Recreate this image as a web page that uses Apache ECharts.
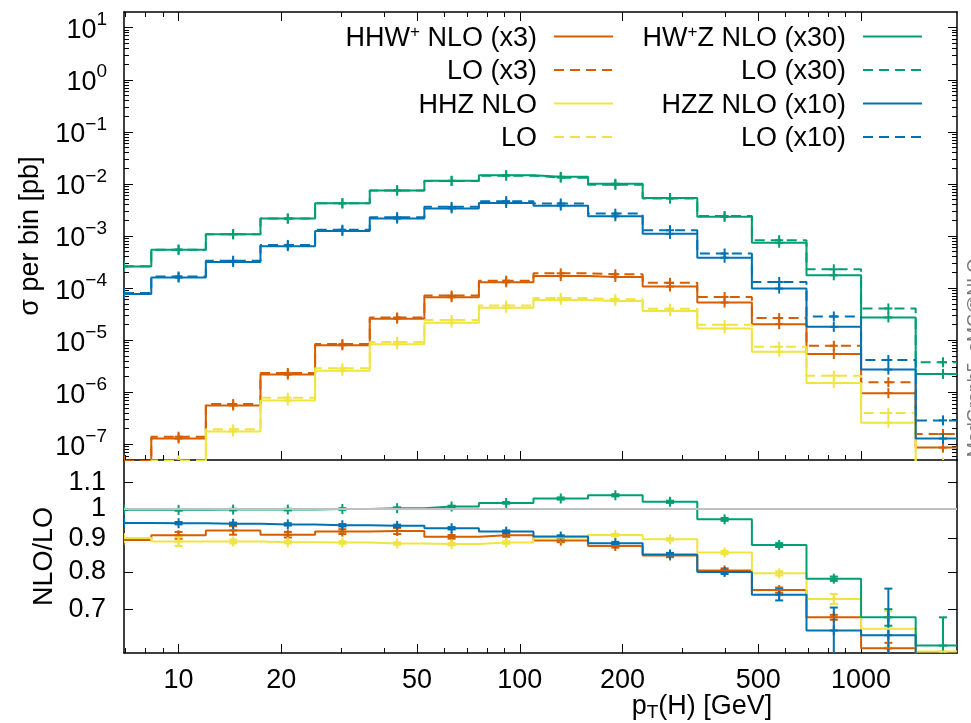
<!DOCTYPE html>
<html>
<head>
<meta charset="utf-8">
<script src="https://cdn.jsdelivr.net/npm/echarts@6/dist/echarts.min.js"></script>
<style>
  html, body { margin: 0; padding: 0; background: #fff; }
  #main { width: 971px; height: 723px; }
</style>
</head>
<body>
<div id="main"></div>
<script>
// bin centres of the pT(H) histogram [GeV]
var binCenters = [6.92, 10, 14.45, 20.9, 30.2, 43.7, 63.1, 91.2, 131.8, 190.5, 275.4, 398.1, 575.4, 831.8, 1202, 1738];

// sigma per bin [pb] (already scaled by the factor shown in the key)
var hhwNLO = [4.3e-8, 1.29e-7, 5.57e-7, 2.18e-6, 7.96e-6, 2.59e-5, 6.67e-5, 1.29e-4, 1.70e-4, 1.63e-4, 1.07e-4, 5.28e-5, 2.03e-5, 5.42e-6, 9.61e-7, 8.65e-8];
var hhwLO  = [4.8e-8, 1.40e-7, 5.92e-7, 2.35e-6, 8.41e-6, 2.73e-5, 7.19e-5, 1.39e-4, 1.92e-4, 1.84e-4, 1.26e-4, 6.76e-5, 2.65e-5, 7.82e-6, 1.56e-6, 1.58e-7];
var hhzNLO = [1.5e-8, 4.4e-8, 1.77e-7, 6.94e-7, 2.60e-6, 8.32e-6, 2.17e-5, 4.17e-5, 5.92e-5, 5.66e-5, 3.65e-5, 1.68e-5, 6.00e-6, 1.51e-6, 2.60e-7, 3.0e-8];
var hhzLO  = [1.7e-8, 4.9e-8, 1.94e-7, 7.88e-7, 2.89e-6, 9.27e-6, 2.44e-5, 4.63e-5, 6.47e-5, 6.11e-5, 4.02e-5, 1.97e-5, 7.48e-6, 2.08e-6, 3.98e-7, 4.5e-8];
var hwzNLO = [2.61e-4, 5.45e-4, 1.08e-3, 2.16e-3, 4.24e-3, 7.51e-3, 1.15e-2, 1.47e-2, 1.37e-2, 1.01e-2, 5.37e-3, 2.33e-3, 7.41e-4, 1.76e-4, 2.73e-5, 2.25e-6];
var hwzLO  = [2.62e-4, 5.47e-4, 1.08e-3, 2.16e-3, 4.24e-3, 7.49e-3, 1.14e-2, 1.44e-2, 1.32e-2, 9.6e-3, 5.22e-3, 2.42e-3, 8.31e-4, 2.29e-4, 4.06e-5, 3.76e-6];
var hzzNLO = [7.67e-5, 1.59e-4, 3.18e-4, 6.38e-4, 1.25e-3, 2.16e-3, 3.39e-3, 4.31e-3, 3.83e-3, 2.39e-3, 1.10e-3, 3.83e-4, 9.78e-5, 1.80e-5, 2.72e-6, 1.29e-7];
var hzzLO  = [8.06e-5, 1.67e-4, 3.35e-4, 6.74e-4, 1.32e-3, 2.30e-3, 3.63e-3, 4.67e-3, 4.22e-3, 2.69e-3, 1.29e-3, 4.62e-4, 1.31e-4, 2.85e-5, 4.17e-6, 2.88e-7];

// NLO/LO ratio and its uncertainty
var hhwRatio = [0.896, 0.911, 0.927, 0.913, 0.923, 0.925, 0.906, 0.911, 0.894, 0.877, 0.848, 0.804, 0.750, 0.681, 0.610, 0.55];
var hhzRatio = [0.902, 0.891, 0.891, 0.889, 0.888, 0.885, 0.883, 0.888, 0.904, 0.912, 0.898, 0.857, 0.796, 0.727, 0.654, 0.603];
var hwzRatio = [0.997, 0.997, 0.998, 0.998, 1.000, 1.003, 1.009, 1.022, 1.038, 1.050, 1.026, 0.964, 0.880, 0.781, 0.681, 0.616];
var hzzRatio = [0.952, 0.951, 0.949, 0.947, 0.944, 0.942, 0.934, 0.923, 0.907, 0.886, 0.851, 0.800, 0.738, 0.650, 0.639, 0.45];
var hhwErr = [0, 0.011, 0.014, 0.009, 0.008, 0.010, 0.006, 0.005, 0.005, 0.005, 0.005, 0.006, 0.007, 0.006, 0.012, 0];
var hhzErr = [0, 0.014, 0.006, 0.004, 0.004, 0.004, 0.004, 0.004, 0.004, 0.004, 0.004, 0.005, 0.006, 0.013, 0.042, 0];
var hwzErr = [0, 0.003, 0.003, 0.003, 0.003, 0.003, 0.003, 0.003, 0.004, 0.004, 0.004, 0.005, 0.006, 0.006, 0.020, 0.065];
var hzzErr = [0, 0.004, 0.004, 0.004, 0.004, 0.004, 0.004, 0.004, 0.004, 0.004, 0.005, 0.006, 0.015, 0.055, 0.115, 0];

// axis ticks
var xMajor = [10, 20, 50, 100, 200, 500, 1000];
var xMinor = [7, 8, 9, 30, 40, 60, 70, 80, 90, 300, 400, 600, 700, 800, 900];
var yMajor = [1e-7, 1e-6, 1e-5, 1e-4, 1e-3, 1e-2, 1e-1, 1, 10];
var ratioTicks = [0.7, 0.8, 0.9, 1, 1.1];

// key
var keyText = ['{t|HHW}{s|+}{t| NLO (x3)}', '{t|LO (x3)}', '{t|HHZ NLO}', '{t|LO}',
               '{t|HW}{s|+}{t|Z NLO (x30)}', '{t|LO (x30)}', '{t|HZZ NLO (x10)}', '{t|LO (x10)}'];

var xMin = 6.92, xMax = 1910;
var yMin = 5e-8, yMax = 20;
var rMin = 0.6, rMax = 1.19;
var FONT = 'Liberation Sans';
var C_HHW = '#D55E00', C_HHZ = '#F0E442', C_HWZ = '#009E73', C_HZZ = '#0072B2';

// minor decade ticks 2..9 x 10^n on the cross-section axis
var yMinor = [];
for (var n = -8; n <= 1; n++) {
  for (var m = 2; m <= 9; m++) {
    var t = m * Math.pow(10, n);
    if (t > yMin * 1.001 && t < yMax * 0.999) yMinor.push(t);
  }
}

var myChart = echarts.init(document.getElementById('main'));

function stepLine(vals, color, dashed, xi, yi) {
  var d = binCenters.map(function (x, i) { return [x, vals[i]]; });
  d.push([xMax, vals[vals.length - 1]]);   // last bin runs on to the frame
  return {
    type: 'line', step: 'middle', xAxisIndex: xi, yAxisIndex: yi,
    data: d, symbol: 'none', showSymbol: false, silent: true,
    lineStyle: { color: color, width: 2, type: dashed ? [10, 6] : 'solid' }
  };
}

function seg(x1, y1, x2, y2, color) {
  return { type: 'line', shape: { x1: x1, y1: y1, x2: x2, y2: y2 }, style: { stroke: color, lineWidth: 2 } };
}

// '+' point with (optional) error bar
function points(vals, errs, color, xi, yi) {
  return {
    type: 'custom', xAxisIndex: xi, yAxisIndex: yi, silent: true, clip: true,
    data: binCenters.map(function (x, i) { return [x, vals[i], errs ? errs[i] : 0]; }),
    renderItem: function (params, api) {
      var x = api.value(0), y = api.value(1), e = api.value(2);
      var c = api.coord([x, y]);
      var kids = [seg(c[0] - 4, c[1], c[0] + 4, c[1], color), seg(c[0], c[1] - 5, c[0], c[1] + 5, color)];
      if (e > 0) {
        var hi = api.coord([x, y + e]), lo = api.coord([x, y - e]);
        kids.push(seg(c[0], hi[1], c[0], lo[1], color));
        kids.push(seg(c[0] - 4, hi[1], c[0] + 4, hi[1], color));
        kids.push(seg(c[0] - 4, lo[1], c[0] + 4, lo[1], color));
      }
      return { type: 'group', children: kids };
    }
  };
}

function xAxis(grid, pos, ticks, len, line, label) {
  return {
    type: 'log', gridIndex: grid, position: pos, min: xMin, max: xMax,
    axisLine: { show: line, onZero: false, lineStyle: { color: '#000', width: 1.5 } },
    axisTick: { show: true, inside: true, length: len, customValues: ticks, lineStyle: { color: '#000', width: 1 } },
    axisLabel: {
      show: label, customValues: ticks, margin: 14, color: '#000', fontSize: 27, fontFamily: FONT,
      formatter: function (v) { return String(v); }
    },
    splitLine: { show: false }
  };
}

function yAxis(grid, pos, min, max, ticks, len, line) {
  return {
    type: 'log', gridIndex: grid, position: pos, min: min, max: max,
    axisLine: { show: line, onZero: false, lineStyle: { color: '#000', width: 1.5 } },
    axisTick: { show: true, inside: true, length: len, customValues: ticks, lineStyle: { color: '#000', width: 1 } },
    axisLabel: { show: false, customValues: ticks },
    splitLine: { show: false }
  };
}

// left axis of the upper panel: 10^n labels
var yTop = yAxis(0, 'left', yMin, yMax, yMajor, 9, true);
yTop.axisLabel = {
  show: true, customValues: yMajor, margin: 17, color: '#000', fontFamily: FONT,
  formatter: function (v) {
    var p = Math.round(Math.log10(v));
    return '{b|10}{e|' + (p < 0 ? '\u2212' + (-p) : p) + '}';
  },
  rich: {
    b: { fontSize: 27, fontFamily: FONT, color: '#000', padding: [6, 0, 0, 0] },
    e: { fontSize: 19, fontFamily: FONT, color: '#000', padding: [0, 0, 15, 0] }
  }
};
yTop.name = '\u03c3 per bin [pb]';
yTop.nameLocation = 'middle';
yTop.nameGap = 80;
yTop.nameTextStyle = { fontSize: 27, fontFamily: FONT, color: '#000' };

var yRatio = yAxis(1, 'left', rMin, rMax, ratioTicks, 9, true);
yRatio.axisLabel = {
  show: true, customValues: ratioTicks, margin: 18, color: '#000', fontSize: 27, fontFamily: FONT,
  formatter: function (v) { return String(v); }
};
yRatio.name = 'NLO/LO';
yRatio.nameLocation = 'middle';
yRatio.nameGap = 62;
yRatio.nameTextStyle = { fontSize: 27, fontFamily: FONT, color: '#000' };

// key: text right-aligned, line sample after it
var keyStyles = [[C_HHW, false], [C_HHW, true], [C_HHZ, false], [C_HHZ, true],
                 [C_HWZ, false], [C_HWZ, true], [C_HZZ, false], [C_HZZ, true]];
var graphics = [];
keyText.forEach(function (txt, i) {
  var right = i < 4 ? 537 : 846;
  var y = 36.5 + (i % 4) * 33.5;
  graphics.push({
    type: 'text', x: right, y: y + 2, silent: true,
    style: {
      text: txt, align: 'right', verticalAlign: 'middle', fill: '#000',
      rich: {
        t: { fontSize: 27, fontFamily: FONT, fill: '#000' },
        s: { fontSize: 17, fontFamily: FONT, fill: '#000', padding: [0, 0, 13, 0] }
      }
    }
  });
  graphics.push({
    type: 'line', silent: true,
    shape: { x1: right + 17, y1: y, x2: right + 76, y2: y },
    style: { stroke: keyStyles[i][0], lineWidth: 2, lineDash: keyStyles[i][1] ? [10, 6] : null }
  });
});
// x axis title
graphics.push({
  type: 'text', x: 702, y: 707, silent: true,
  style: {
    text: '{a|p}{b|T}{a|(H) [GeV]}', align: 'center', verticalAlign: 'middle',
    rich: {
      a: { fontSize: 27, fontFamily: FONT, fill: '#000' },
      b: { fontSize: 19, fontFamily: FONT, fill: '#000', padding: [12, 0, 0, 0] }
    }
  }
});
// generator tag cut off at the right edge
graphics.push({
  type: 'text', x: 984, y: 358, rotation: Math.PI / 2, silent: true,
  style: { text: 'MadGraph5_aMC@NLO', fontSize: 18, fontFamily: FONT, fill: '#777', align: 'center', verticalAlign: 'bottom' }
});

var option = {
  animation: false,
  backgroundColor: '#fff',
  textStyle: { fontFamily: FONT },
  grid: [
    { left: 124, top: 12, width: 833, height: 448 },
    { left: 124, top: 460, width: 833, height: 193 }
  ],
  xAxis: [
    xAxis(0, 'bottom', xMajor, 9, true, false),
    xAxis(0, 'bottom', xMinor, 5, false, false),
    xAxis(0, 'top', xMajor, 9, true, false),
    xAxis(0, 'top', xMinor, 5, false, false),
    xAxis(1, 'bottom', xMajor, 9, true, true),
    xAxis(1, 'bottom', xMinor, 5, false, false)
  ],
  yAxis: [
    yTop,
    yAxis(0, 'left', yMin, yMax, yMinor, 5, false),
    yAxis(0, 'right', yMin, yMax, yMajor, 9, true),
    yAxis(0, 'right', yMin, yMax, yMinor, 5, false),
    yRatio,
    yAxis(1, 'right', rMin, rMax, ratioTicks, 9, true)
  ],
  graphic: graphics,
  series: [
    stepLine(hhwNLO, C_HHW, false, 0, 0), points(hhwNLO, null, C_HHW, 0, 0),
    stepLine(hhwLO, C_HHW, true, 0, 0), points(hhwLO, null, C_HHW, 0, 0),
    stepLine(hhzNLO, C_HHZ, false, 0, 0), points(hhzNLO, null, C_HHZ, 0, 0),
    stepLine(hhzLO, C_HHZ, true, 0, 0), points(hhzLO, null, C_HHZ, 0, 0),
    stepLine(hwzNLO, C_HWZ, false, 0, 0), points(hwzNLO, null, C_HWZ, 0, 0),
    stepLine(hwzLO, C_HWZ, true, 0, 0), points(hwzLO, null, C_HWZ, 0, 0),
    stepLine(hzzNLO, C_HZZ, false, 0, 0), points(hzzNLO, null, C_HZZ, 0, 0),
    stepLine(hzzLO, C_HZZ, true, 0, 0), points(hzzLO, null, C_HZZ, 0, 0),
    // reference line at ratio 1
    {
      type: 'line', xAxisIndex: 4, yAxisIndex: 4, data: [], silent: true,
      markLine: {
        silent: true, symbol: 'none', label: { show: false },
        lineStyle: { color: '#c0c0c0', width: 2, type: 'solid' },
        data: [{ yAxis: 1 }]
      }
    },
    stepLine(hhwRatio, C_HHW, false, 4, 4), points(hhwRatio, hhwErr, C_HHW, 4, 4),
    stepLine(hhzRatio, C_HHZ, false, 4, 4), points(hhzRatio, hhzErr, C_HHZ, 4, 4),
    stepLine(hwzRatio, C_HWZ, false, 4, 4), points(hwzRatio, hwzErr, C_HWZ, 4, 4),
    stepLine(hzzRatio, C_HZZ, false, 4, 4), points(hzzRatio, hzzErr, C_HZZ, 4, 4)
  ]
};

myChart.setOption(option);
</script>
</body>
</html>
